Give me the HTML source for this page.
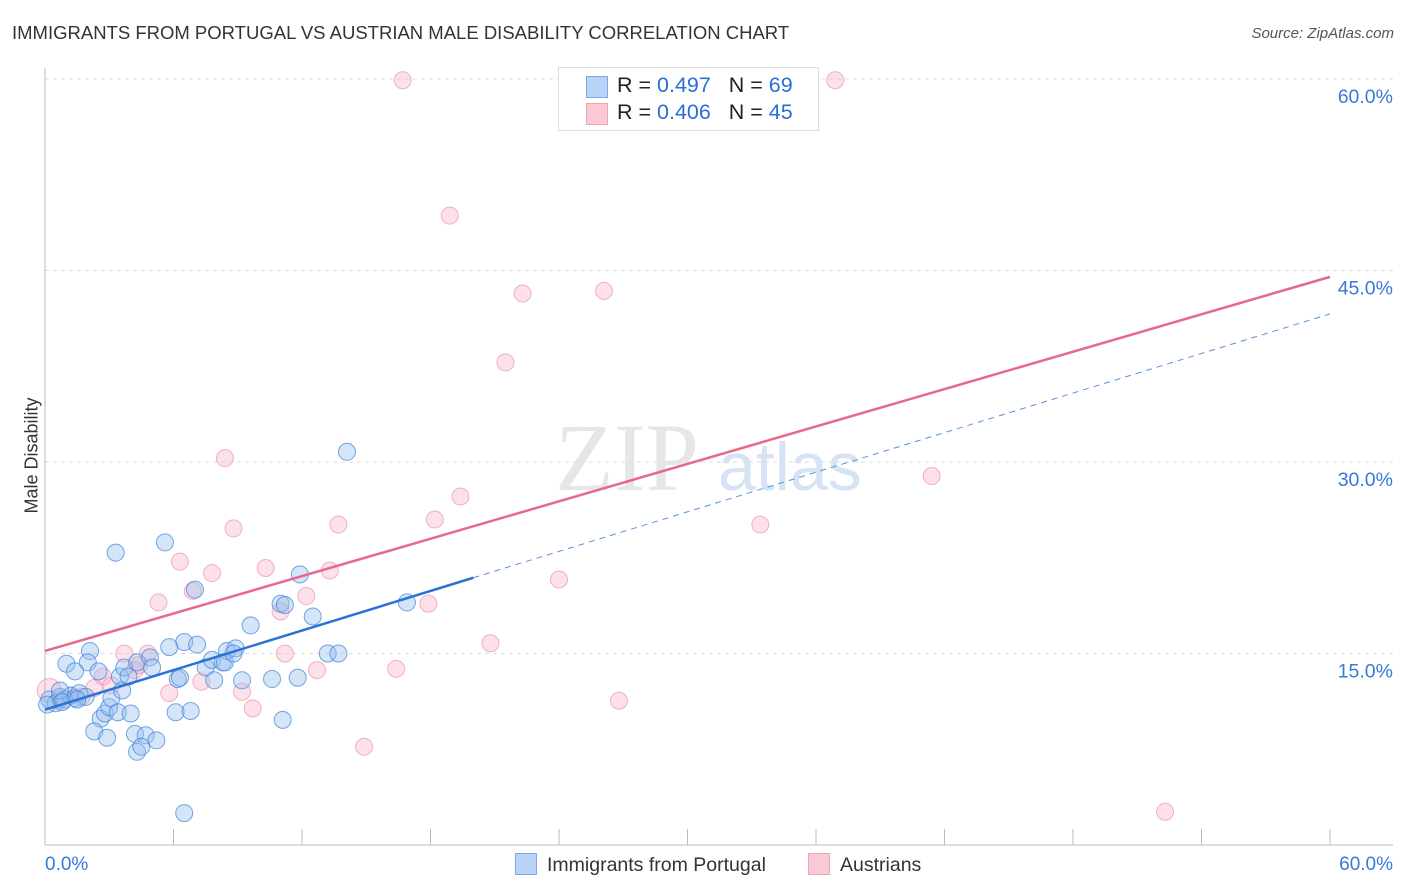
<!DOCTYPE html>
<html><head><meta charset="utf-8"><style>
body{margin:0;background:#fff;font-family:"Liberation Sans",sans-serif;}
#wrap{position:relative;width:1406px;height:892px;overflow:hidden;}
.t{position:absolute;white-space:nowrap;}
</style></head><body>
<div id="wrap">
<div class="t" style="left:12px;top:22px;font-size:18.5px;color:#333;">IMMIGRANTS FROM PORTUGAL VS AUSTRIAN MALE DISABILITY CORRELATION CHART</div>
<div class="t" style="right:12px;top:25px;font-size:15px;color:#555;font-style:italic;">Source: ZipAtlas.com</div>
<div class="t" style="left:-26px;top:445px;font-size:18px;color:#333;transform:rotate(-90deg);">Male Disability</div>
<svg id="svg" width="1406" height="892" style="position:absolute;left:0;top:0"></svg>
<div style="position:absolute;left:558px;top:67px;width:259px;height:62px;border:1px solid #ddd;background:#fff;font-size:21.5px;color:#222;">
 <div style="position:absolute;left:27px;top:8px;width:20px;height:20px;background:#b8d3f5;border:1px solid #7aa8e6;"></div>
 <div class="t" style="left:58px;top:5px;">R = <span style="color:#2a6fd6">0.497</span>&nbsp;&nbsp;&nbsp;N = <span style="color:#2a6fd6">69</span></div>
 <div style="position:absolute;left:27px;top:35px;width:20px;height:20px;background:#f9c9d6;border:1px solid #eea3b8;"></div>
 <div class="t" style="left:58px;top:32px;">R = <span style="color:#2a6fd6">0.406</span>&nbsp;&nbsp;&nbsp;N = <span style="color:#2a6fd6">45</span></div>
</div>
<div style="position:absolute;left:515px;top:853px;font-size:19.5px;color:#333;">
 <span style="display:inline-block;width:20px;height:20px;background:#b8d3f5;border:1px solid #7aa8e6;vertical-align:-4px;margin-right:10px;"></span>Immigrants from Portugal</div>
<div style="position:absolute;left:808px;top:853px;font-size:19.5px;color:#333;">
 <span style="display:inline-block;width:20px;height:20px;background:#f9c9d6;border:1px solid #eea3b8;vertical-align:-4px;margin-right:10px;"></span>Austrians</div>
</div>
<script>
const xTicks=[0,60];
const yTicks=[15,30,45,60];
const blueX=[0.2,0.5,0.7,0.9,1.2,1.4,1.6,1.9,0.1,2.1,2.0,1.0,1.4,2.5,2.6,2.3,2.9,2.8,3.0,3.1,3.4,3.5,3.6,3.7,4.0,4.3,4.2,4.7,4.3,4.5,5.2,4.9,3.3,5.6,6.1,6.2,6.5,6.8,7.0,7.1,7.5,7.9,7.8,8.3,8.5,8.9,9.2,9.6,10.6,11.0,11.2,11.1,11.8,11.9,12.5,13.2,13.7,14.1,16.9,6.5,8.4,5.8,8.8,5.0,6.3,3.9,0.7,1.5,0.8];
const blueY=[11.4,11.1,11.6,11.4,11.7,11.5,11.9,11.6,11.0,15.2,14.3,14.2,13.6,13.6,9.9,8.9,8.4,10.3,10.8,11.5,10.4,13.2,12.1,13.9,10.3,14.3,8.7,8.6,7.3,7.7,8.2,14.7,22.9,23.7,10.4,13.0,15.9,10.5,20.0,15.7,13.9,12.9,14.5,14.3,15.2,15.4,12.9,17.2,13.0,18.9,18.8,9.8,13.1,21.2,17.9,15.0,15.0,30.8,19.0,2.5,14.3,15.5,15.0,13.9,13.1,13.2,12.1,11.4,11.2];
const pinkX=[16.7,36.9,18.9,22.3,26.1,21.5,8.4,19.4,18.2,13.7,8.8,33.4,41.4,6.3,10.3,13.3,7.8,24.0,6.9,5.3,12.2,11.0,17.9,20.8,11.2,4.8,3.7,12.7,16.4,4.2,2.7,5.8,7.3,9.2,9.7,14.9,26.8,52.3,0.2,0.7,2.3,3.1,1.7,4.4,1.2];
const pinkY=[59.9,59.9,49.3,43.2,43.4,37.8,30.3,27.3,25.5,25.1,24.8,25.1,28.9,22.2,21.7,21.5,21.3,20.8,19.9,19.0,19.5,18.3,18.9,15.8,15.0,15.0,15.0,13.7,13.8,13.7,13.2,11.9,12.8,12.0,10.7,7.7,11.3,2.6,12.1,11.4,12.3,12.5,11.6,14.1,11.7];
const blueTrend=[10.6,41.6], blueSolidEnd=20.0;
const pinkTrend=[15.2,44.5];
const X0=45,X1=1330,Y0=845,Y60=79;
const sx=v=>X0+(X1-X0)*v/60, sy=v=>Y0-(Y0-Y60)*v/60;
const svg=document.getElementById('svg'),NS='http://www.w3.org/2000/svg';
function mk(t,a,p){const e=document.createElementNS(NS,t);for(const k in a)e.setAttribute(k,a[k]);(p||svg).appendChild(e);return e;}
let wm=mk('text',{x:555,y:490,'font-size':96,'font-family':'Liberation Serif,serif',fill:'#e6e6e6'});wm.textContent='ZIP';


let wm2=mk('text',{x:718,y:490,'font-size':68,'font-family':'Liberation Sans,sans-serif',fill:'#d5e3f5'});wm2.textContent='atlas';


yTicks.forEach(v=>{
 const g=mk('line',{x1:X0,x2:1393,y1:sy(v),y2:sy(v),stroke:'#ddd','stroke-dasharray':'4,4'});
 
 
 const t=mk('text',{x:1393,y:sy(v)+24,'text-anchor':'end','font-size':19.5,fill:'#3a78d8','font-family':'Liberation Sans,sans-serif'});
 t.textContent=v.toFixed(1)+'%';
 
 
});
let ax=mk('line',{x1:X0,x2:1393,y1:Y0,y2:Y0,stroke:'#bbb'});


let ay=mk('line',{x1:X0,x2:X0,y1:68,y2:Y0,stroke:'#bbb'});


for(let i=0;i<=10;i++){const x=X0+(X1-X0)*i/10;const tk=mk('line',{x1:x,x2:x,y1:829,y2:Y0,stroke:'#bbb'});
 
 }
xTicks.forEach((v,i)=>{const t=mk('text',{x:i?1393:45,y:870,'text-anchor':i?'end':'start','font-size':19,fill:'#3a78d8','font-family':'Liberation Sans,sans-serif'});
 t.textContent=v.toFixed(1)+'%';
 
 });
pinkX.forEach((x,i)=>{const c=mk('circle',{cx:sx(x),cy:sy(pinkY[i]),r:i==38?12:8.5,fill:'rgba(246,170,195,0.35)',stroke:'rgba(235,130,160,0.6)','stroke-width':1});
 
 });
blueX.forEach((x,i)=>{const c=mk('circle',{cx:sx(x),cy:sy(blueY[i]),r:8.5,fill:'rgba(150,190,238,0.4)',stroke:'rgba(60,130,220,0.7)','stroke-width':1});
 
 });
const bAt=x=>blueTrend[0]+(blueTrend[1]-blueTrend[0])*x/60;
let bl=mk('line',{x1:sx(0),y1:sy(bAt(0)),x2:sx(blueSolidEnd),y2:sy(bAt(blueSolidEnd)),stroke:'#2a72d8','stroke-width':2.5});


let bd=mk('line',{x1:sx(blueSolidEnd),y1:sy(bAt(blueSolidEnd)),x2:sx(60),y2:sy(bAt(60)),stroke:'#5a90dc','stroke-width':1,'stroke-dasharray':'6,5'});


let pl=mk('line',{x1:sx(0),y1:sy(pinkTrend[0]),x2:sx(60),y2:sy(pinkTrend[1]),stroke:'#e8678f','stroke-width':2.5});


</script>
</body></html>
